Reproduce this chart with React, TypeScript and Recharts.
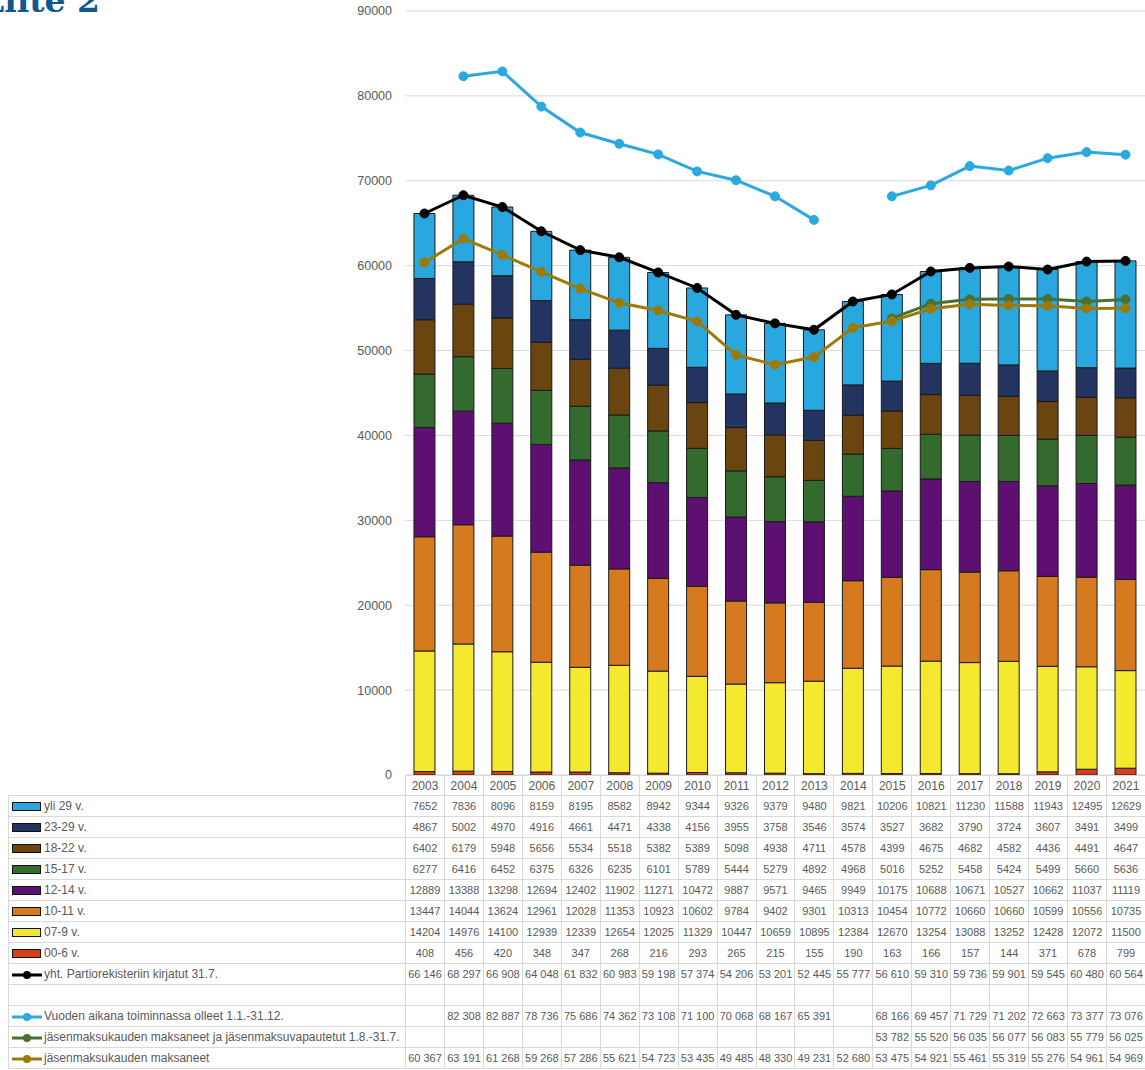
import React from 'react';
import { ComposedChart, Bar, Line, XAxis, YAxis, CartesianGrid } from 'recharts';

const years = ['2003', '2004', '2005', '2006', '2007', '2008', '2009', '2010', '2011', '2012', '2013', '2014', '2015', '2016', '2017', '2018', '2019', '2020', '2021'];

const yli29 = [7652, 7836, 8096, 8159, 8195, 8582, 8942, 9344, 9326, 9379, 9480, 9821, 10206, 10821, 11230, 11588, 11943, 12495, 12629];
const age23to29 = [4867, 5002, 4970, 4916, 4661, 4471, 4338, 4156, 3955, 3758, 3546, 3574, 3527, 3682, 3790, 3724, 3607, 3491, 3499];
const age18to22 = [6402, 6179, 5948, 5656, 5534, 5518, 5382, 5389, 5098, 4938, 4711, 4578, 4399, 4675, 4682, 4582, 4436, 4491, 4647];
const age15to17 = [6277, 6416, 6452, 6375, 6326, 6235, 6101, 5789, 5444, 5279, 4892, 4968, 5016, 5252, 5458, 5424, 5499, 5660, 5636];
const age12to14 = [12889, 13388, 13298, 12694, 12402, 11902, 11271, 10472, 9887, 9571, 9465, 9949, 10175, 10688, 10671, 10527, 10662, 11037, 11119];
const age10to11 = [13447, 14044, 13624, 12961, 12028, 11353, 10923, 10602, 9784, 9402, 9301, 10313, 10454, 10772, 10660, 10660, 10599, 10556, 10735];
const age07to9 = [14204, 14976, 14100, 12939, 12339, 12654, 12025, 11329, 10447, 10659, 10895, 12384, 12670, 13254, 13088, 13252, 12428, 12072, 11500];
const age00to6 = [408, 456, 420, 348, 347, 268, 216, 293, 265, 215, 155, 190, 163, 166, 157, 144, 371, 678, 799];

const registered = [66146, 68297, 66908, 64048, 61832, 60983, 59198, 57374, 54206, 53201, 52445, 55777, 56610, 59310, 59736, 59901, 59545, 60480, 60564];
const activeDuringYear = [null, 82308, 82887, 78736, 75686, 74362, 73108, 71100, 70068, 68167, 65391, null, 68166, 69457, 71729, 71202, 72663, 73377, 73076];
const paidAndExempt = [null, null, null, null, null, null, null, null, null, null, null, null, 53782, 55520, 56035, 56077, 56083, 55779, 56025];
const paid = [60367, 63191, 61268, 59268, 57286, 55621, 54723, 53435, 49485, 48330, 49231, 52680, 53475, 54921, 55461, 55319, 55276, 54961, 54969];

const yTicks = [0, 10000, 20000, 30000, 40000, 50000, 60000, 70000, 80000, 90000];

// bottom of the stack first
const barSeries = [
  { key: 'a00', name: '00-6 v.', color: '#d2411a', values: age00to6 },
  { key: 'a07', name: '07-9 v.', color: '#f5e92f', values: age07to9 },
  { key: 'a10', name: '10-11 v.', color: '#d67a20', values: age10to11 },
  { key: 'a12', name: '12-14 v.', color: '#5e0f72', values: age12to14 },
  { key: 'a15', name: '15-17 v.', color: '#336a2e', values: age15to17 },
  { key: 'a18', name: '18-22 v.', color: '#6b4510', values: age18to22 },
  { key: 'a23', name: '23-29 v.', color: '#22345f', values: age23to29 },
  { key: 'yli', name: 'yli 29 v.', color: '#29a8e0', values: yli29 },
];

const lineSeries = [
  { key: 'reg', name: 'yht. Partiorekisteriin kirjatut 31.7.', color: '#000000', values: registered },
  { key: 'act', name: 'Vuoden aikana toiminnassa olleet 1.1.-31.12.', color: '#2aa9e0', values: activeDuringYear },
  { key: 'pex', name: 'jäsenmaksukauden maksaneet ja jäsenmaksuvapautetut 1.8.-31.7.', color: '#4a7030', values: paidAndExempt },
  { key: 'paid', name: 'jäsenmaksukauden maksaneet', color: '#9c7a0a', values: paid },
];

const data = years.map((year, i) => {
  const row: Record<string, string | number | null> = { year };
  barSeries.forEach((s) => (row[s.key] = s.values[i]));
  lineSeries.forEach((s) => (row[s.key] = s.values[i]));
  return row;
});

const spaced = (v: number | null) => (v == null ? '' : String(v).replace(/\B(?=(\d{3})+(?!\d))/g, ' '));

const FONT = '"Liberation Sans", Arial, sans-serif';
const GRID = '#d9d9d9';
const TEXT = '#595959';

const cell: React.CSSProperties = {
  border: `1px solid ${GRID}`,
  padding: 0,
  textAlign: 'center',
  whiteSpace: 'nowrap',
  overflow: 'hidden',
};

const labelCell: React.CSSProperties = { ...cell, textAlign: 'left', paddingLeft: 3, fontSize: 12 };

const BoxSwatch = ({ color }: { color: string }) => (
  <span style={{ display: 'inline-block', width: 27, height: 7, background: color, border: '1px solid #111', marginRight: 3, verticalAlign: 'middle' }} />
);

const LineSwatch = ({ color }: { color: string }) => (
  <svg width={31} height={10} style={{ verticalAlign: 'middle', marginRight: 1 }}>
    <line x1={0} y1={5} x2={30} y2={5} stroke={color} strokeWidth={3} />
    <circle cx={15} cy={5} r={4} fill={color} />
  </svg>
);

const App: React.FC = () => {
  const legendRows = [...barSeries].reverse();
  return (
    <div style={{ position: 'absolute', left: 0, top: 0, width: 1145, height: 1070, background: '#fff', overflow: 'hidden' }}>
      <div style={{ position: 'absolute', left: -19, top: -17, fontFamily: '"DejaVu Serif", serif', fontWeight: 'bold', fontSize: 33, color: '#14568f', lineHeight: '36px' }}>
        Liite 2
      </div>
      <ComposedChart width={1145} height={790} data={data} margin={{ top: 11, right: 0, bottom: 15, left: 0 }} barCategoryGap="23%">
        <CartesianGrid vertical={false} stroke={GRID} strokeWidth={1} />
        <XAxis dataKey="year" hide />
        <YAxis
          domain={[0, 90000]}
          ticks={yTicks}
          width={405}
          axisLine={false}
          tickLine={false}
          tickMargin={7}
          tick={{ fill: TEXT, fontSize: 12.5, fontFamily: FONT }}
        />
        {barSeries.map((s) => (
          <Bar key={s.key} dataKey={s.key} name={s.name} stackId="age" fill={s.color} stroke="#1a1a1a" strokeWidth={1} isAnimationActive={false} />
        ))}
        {lineSeries.map((s) => (
          <Line
            key={s.key}
            dataKey={s.key}
            name={s.name}
            stroke={s.color}
            strokeWidth={3}
            dot={{ r: 4.5, fill: s.color, stroke: s.color, strokeWidth: 1 }}
            activeDot={false}
            isAnimationActive={false}
          />
        ))}
      </ComposedChart>
      <table
        style={{
          position: 'absolute',
          left: 8,
          top: 775,
          width: 1138,
          borderCollapse: 'collapse',
          tableLayout: 'fixed',
          fontFamily: FONT,
          fontSize: 11,
          color: TEXT,
        }}
      >
        <colgroup>
          <col style={{ width: 397 }} />
          {years.map((y) => (
            <col key={y} style={{ width: 38.95 }} />
          ))}
        </colgroup>
        <tbody>
          <tr style={{ height: 20 }}>
            <td style={{ ...cell, borderTop: 'none', borderLeft: 'none' }} />
            {years.map((y) => (
              <td key={y} style={{ ...cell, fontSize: 12 }}>{y}</td>
            ))}
          </tr>
          {legendRows.map((s) => (
            <tr key={s.key} style={{ height: 21 }}>
              <td style={labelCell}>
                <BoxSwatch color={s.color} />
                {s.name}
              </td>
              {s.values.map((v, i) => (
                <td key={i} style={cell}>{v}</td>
              ))}
            </tr>
          ))}
          {lineSeries.map((s, idx) => (
            <React.Fragment key={s.key}>
              {idx === 1 && (
                <tr style={{ height: 21 }}>
                  <td style={cell} />
                  {years.map((y) => (
                    <td key={y} style={cell} />
                  ))}
                </tr>
              )}
              <tr style={{ height: 21 }}>
                <td style={labelCell}>
                  <LineSwatch color={s.color} />
                  {s.name}
                </td>
                {s.values.map((v, i) => (
                  <td key={i} style={cell}>{spaced(v)}</td>
                ))}
              </tr>
            </React.Fragment>
          ))}
        </tbody>
      </table>
    </div>
  );
};

export default App;
